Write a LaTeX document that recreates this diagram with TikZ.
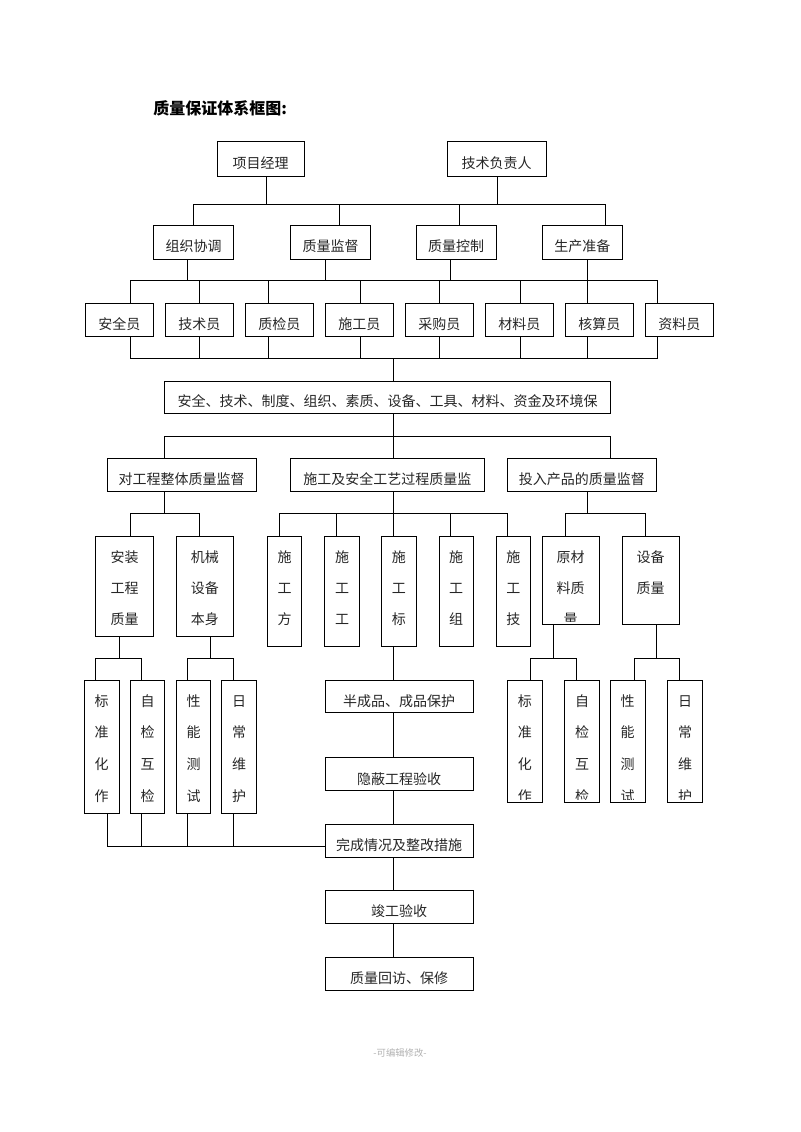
\documentclass[tikz,border=0pt]{standalone}
\usepackage{fontspec}
\newfontfamily\cjk{Noto Sans CJK SC}
\newcommand\hbx[6]{\node[box, minimum width={(#4-#2)*0.75pt}, minimum height={(#5-#3)*0.75pt}] (#1) at ({(#2+#4)/2},{(#3+#5)/2}) {#6};}
\newcommand\vbx[7]{\node[vbox, minimum width={(#4-#2)*0.75pt}, minimum height={(#5-#3)*0.75pt},
  path picture={\clip ([yshift=2.25pt]path picture bounding box.south west) rectangle (path picture bounding box.north east);
    \foreach \c [count=\i] in {#6} {\node[vch] at ([yshift={-19.7pt-(\i-1)*#7}]path picture bounding box.north) {\c};}}
  ] (#1) at ({(#2+#4)/2},{(#3+#5)/2}) {};}
\begin{document}
\begin{tikzpicture}[x=0.75pt,y=-0.75pt,
  box/.style={draw=black, line width=0.7pt, inner sep=0pt, font=\cjk\fontsize{10.5pt}{12pt}\selectfont, text=black!85, text height=14.8pt, text depth=0pt},
  vbox/.style={draw=black, line width=0.7pt, inner sep=0pt},
  vch/.style={font=\cjk\fontsize{10.5pt}{12pt}\selectfont, text=black!85, inner sep=0pt, anchor=base},
  ln/.style={line width=0.7pt}]
\fill[white] (0,0) rectangle (800,1132);
\useasboundingbox (0,0) rectangle (800,1132);

\node[font=\cjk\bfseries\fontsize{12pt}{14pt}\selectfont, anchor=west, inner sep=0pt] (title) at (153,108) {质量保证体系框图:};

\hbx{pm}{217}{141}{304}{176}{项目经理}
\hbx{tl}{447}{141}{546}{176}{技术负责人}
\hbx{zz}{153.5}{225}{233.5}{259}{组织协调}
\hbx{zj}{290.5}{225}{370.5}{259}{质量监督}
\hbx{zk}{416}{225}{496}{259}{质量控制}
\hbx{sc}{542}{225}{622.5}{259}{生产准备}
\hbx{e1}{85}{303}{153.5}{336}{安全员}
\hbx{e2}{165}{303}{233.5}{336}{技术员}
\hbx{e3}{245}{303}{313.5}{336}{质检员}
\hbx{e4}{325}{303}{393.5}{336}{施工员}
\hbx{e5}{405}{303}{473.5}{336}{采购员}
\hbx{e6}{485}{303}{553.5}{336}{材料员}
\hbx{e7}{565}{303}{633.5}{336}{核算员}
\hbx{e8}{645}{303}{713.5}{336}{资料员}
\hbx{big}{164.5}{381}{610.5}{413}{安全、技术、制度、组织、素质、设备、工具、材料、资金及环境保}
\hbx{p1}{107}{458}{256}{491}{对工程整体质量监督}
\hbx{p2}{290.5}{458}{484}{491}{施工及安全工艺过程质量监}
\hbx{p3}{507}{458}{656.5}{491}{投入产品的质量监督}

\vbx{az}{95.7}{536}{153.3}{636}{安装,工程,质量}{23.3pt}
\vbx{jx}{176.3}{536}{233.3}{636}{机械,设备,本身}{23.3pt}
\vbx{s1}{267.7}{536}{301.7}{646.7}{施,工,方}{23.3pt}
\vbx{s2}{324.7}{536}{359.3}{646.7}{施,工,工}{23.3pt}
\vbx{s3}{381.7}{536}{416}{646.7}{施,工,标}{23.3pt}
\vbx{s4}{439}{536}{473.3}{646.7}{施,工,组}{23.3pt}
\vbx{s5}{496}{536}{530.7}{646.7}{施,工,技}{23.3pt}
\vbx{yc}{542}{536}{599}{624.3}{原材,料质,量}{23.3pt}
\vbx{sb}{622}{536}{679.3}{624.3}{设备,质量}{23.3pt}

\vbx{l1}{84.3}{680}{119}{813.3}{标,准,化,作}{23.7pt}
\vbx{l2}{130.3}{680}{164.7}{813.3}{自,检,互,检}{23.7pt}
\vbx{l3}{176.3}{680}{210.7}{813.3}{性,能,测,试}{23.7pt}
\vbx{l4}{221.7}{680}{256.3}{813.3}{日,常,维,护}{23.7pt}
\vbx{r1}{507.3}{680}{542.3}{802.3}{标,准,化,作}{23.7pt}
\vbx{r2}{564.7}{680}{599.3}{802.3}{自,检,互,检}{23.7pt}
\vbx{r3}{610.3}{680}{645}{802.3}{性,能,测,试}{23.7pt}
\vbx{r4}{667.7}{680}{702.3}{802.3}{日,常,维,护}{23.7pt}

\hbx{c1}{325}{680}{473.3}{712.7}{半成品、成品保护}
\hbx{c2}{325}{757.7}{473.3}{790.7}{隐蔽工程验收}
\hbx{c3}{325}{824.3}{473.3}{857.3}{完成情况及整改措施}
\hbx{c4}{325}{890.7}{473.3}{923.3}{竣工验收}
\hbx{c5}{325}{957.3}{473.3}{990}{质量回访、保修}

\node[font=\cjk\fontsize{7pt}{8pt}\selectfont, text=black!30, inner sep=0pt] (foot) at (400,1053) {-可编辑修改-};

% level 1
\draw[ln] (pm.south -| 266,0) -- (266,204);
\draw[ln] (tl.south -| 497,0) -- (497,204);
\draw[ln] (zz.north -| 193.5,0) |- (605,204) -- (sc.north -| 605,0);
\draw[ln] (339,204) -- (zj.north -| 339,0);
\draw[ln] (459.5,204) -- (zk.north -| 459.5,0);
% level 2 to staff
\draw[ln] (zz.south -| 187.3,0) -- (187.3,280);
\draw[ln] (zj.south -| 325,0) -- (325,280);
\draw[ln] (zk.south -| 450.6,0) -- (450.6,280);
\draw[ln] (sc.south -| 587.5,0) -- (e7.north -| 587.5,0);
\draw[ln] (e1.north -| 130,0) |- (657,280) -- (e8.north -| 657,0);
\foreach \n/\x in {e2/199, e3/268, e4/360, e5/439, e6/520} \draw[ln] (\x,280) -- (\n.north -| \x,0);
% staff to big box
\draw[ln] (e1.south -| 130,0) |- (657,358) -- (e8.south -| 657,0);
\foreach \n/\x in {e2/199, e3/268, e4/360, e5/439, e6/520, e7/587.5} \draw[ln] (\n.south -| \x,0) -- (\x,358);
\draw[ln] (393.5,358) -- (big.north -| 393.5,0);
% big box to three supervisions
\draw[ln] (big.south -| 393,0) -- (p2.north -| 393,0);
\draw[ln] (p1.north -| 164.5,0) |- (610.5,436) -- (p3.north -| 610.5,0);
% p1 group
\draw[ln] (p1.south -| 164.5,0) -- (164.5,513);
\draw[ln] (az.north -| 130.7,0) |- (199,513) -- (jx.north -| 199,0);
% p2 group
\draw[ln] (p2.south -| 393,0) -- (s3.north -| 393,0);
\draw[ln] (s1.north -| 279,0) |- (507.7,513) -- (s5.north -| 507.7,0);
\draw[ln] (336,513) -- (s2.north -| 336,0);
\draw[ln] (450.3,513) -- (s4.north -| 450.3,0);
% p3 group
\draw[ln] (p3.south -| 587.7,0) -- (587.7,513);
\draw[ln] (yc.north -| 565,0) |- (645,513) -- (sb.north -| 645,0);
% level 5 left
\draw[ln] (az.south -| 119,0) -- (119,658);
\draw[ln] (l1.north -| 95.7,0) |- (141.3,658) -- (l2.north -| 141.3,0);
\draw[ln] (jx.south -| 210,0) -- (210,658);
\draw[ln] (l3.north -| 187.3,0) |- (233.3,658) -- (l4.north -| 233.3,0);
\draw[ln] (l1.south -| 107.3,0) |- (c3.west |- 0,846);
\foreach \n/\x in {l2/141.7, l3/187.3, l4/233.3} \draw[ln] (\n.south -| \x,0) -- (\x,846);
% centre column
\draw[ln] (s3.south -| 393.3,0) -- (c1.north -| 393.3,0);
\draw[ln] (c1.south -| 393.3,0) -- (c2.north -| 393.3,0);
\draw[ln] (c2.south -| 393.3,0) -- (c3.north -| 393.3,0);
\draw[ln] (c3.south -| 393.3,0) -- (c4.north -| 393.3,0);
\draw[ln] (c4.south -| 393.3,0) -- (c5.north -| 393.3,0);
% level 5 right
\draw[ln] (yc.south -| 553.3,0) -- (553.3,658);
\draw[ln] (r1.north -| 530.7,0) |- (576.7,658) -- (r2.north -| 576.7,0);
\draw[ln] (sb.south -| 656.7,0) -- (656.7,658);
\draw[ln] (r3.north -| 634,0) |- (679.3,658) -- (r4.north -| 679.3,0);
\end{tikzpicture}
\end{document}
